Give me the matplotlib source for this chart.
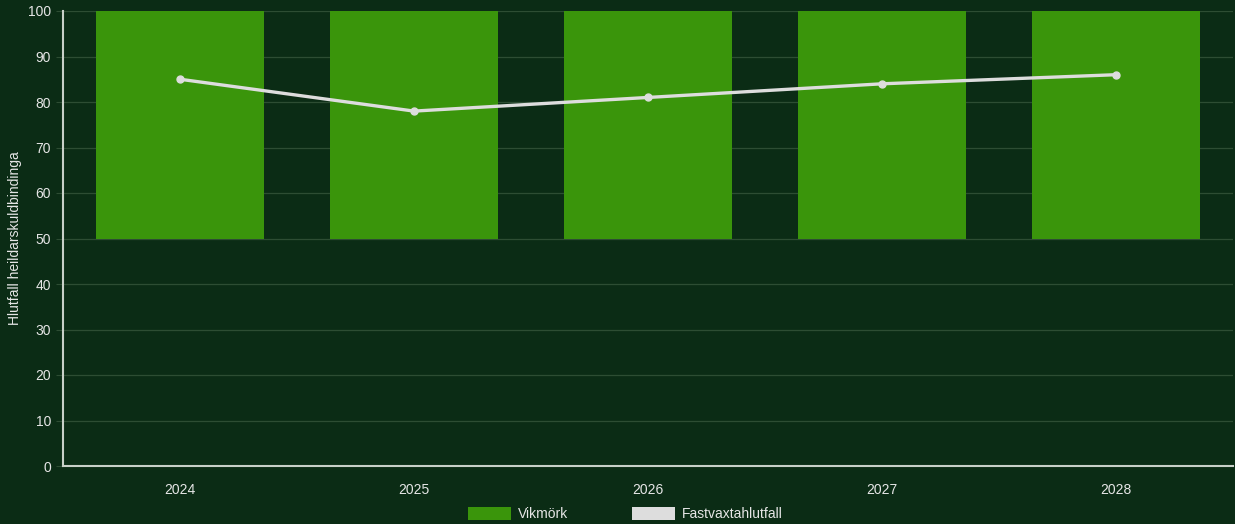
import matplotlib
matplotlib.use('Agg')
import matplotlib.pyplot as plt
from matplotlib.patches import Patch

plt.rcParams['font.family'] = ['Liberation Sans', 'DejaVu Sans']

years = ['2024', '2025', '2026', '2027', '2028']
band_low = [50, 50, 50, 50, 50]
band_high = [100, 100, 100, 100, 100]
fixed_share = [85, 78, 81, 84, 86]

bg = '#0b2c15'
bar_color = '#3a950b'
line_color = '#dddddd'
text_color = '#e6e6e6'

fig = plt.figure(figsize=(12.35, 5.24), dpi=100, facecolor=bg)
ax = fig.add_axes([63 / 1235, 58 / 524, 1170 / 1235, 455 / 524])
ax.set_facecolor(bg)

x = range(len(years))
heights = [h - l for h, l in zip(band_high, band_low)]
ax.bar(x, heights, bottom=band_low, width=0.72, color=bar_color, zorder=2)
ax.plot(x, fixed_share, color=line_color, lw=2.4, marker='o', markersize=5, zorder=3)

ax.set_xlim(-0.5, len(years) - 0.5)
ax.set_ylim(0, 100)
ax.set_yticks(range(0, 101, 10))
ax.set_xticks(list(x))
ax.set_xticklabels(years)
ax.grid(axis='y', color='#2d4d33', lw=0.9, zorder=1)
ax.tick_params(axis='y', colors='#2d4d33', labelcolor=text_color, labelsize=10, length=5)
ax.tick_params(axis='x', length=0, labelcolor=text_color, labelsize=10, pad=12)
for side in ['top', 'right']:
    ax.spines[side].set_visible(False)
for side in ['left', 'bottom']:
    ax.spines[side].set_color('#c8d0c8')
    ax.spines[side].set_linewidth(1.5)
ax.set_ylabel('Hlutfall heildarskuldbindinga', color=text_color, fontsize=10)
ax.yaxis.set_label_coords(-0.035, 0.5)

handles = [Patch(facecolor=bar_color, label='Vikmörk'),
           Patch(facecolor=line_color, label='Fastvaxtahlutfall')]
fig.legend(handles=handles, loc='lower center', ncol=2, frameon=False,
           bbox_to_anchor=(0.5065, -0.018), labelcolor=text_color, fontsize=10,
           handlelength=3.1, handleheight=1.1, handletextpad=0.5, columnspacing=4.6)

plt.savefig('out.png', facecolor=bg)
plt.close()
